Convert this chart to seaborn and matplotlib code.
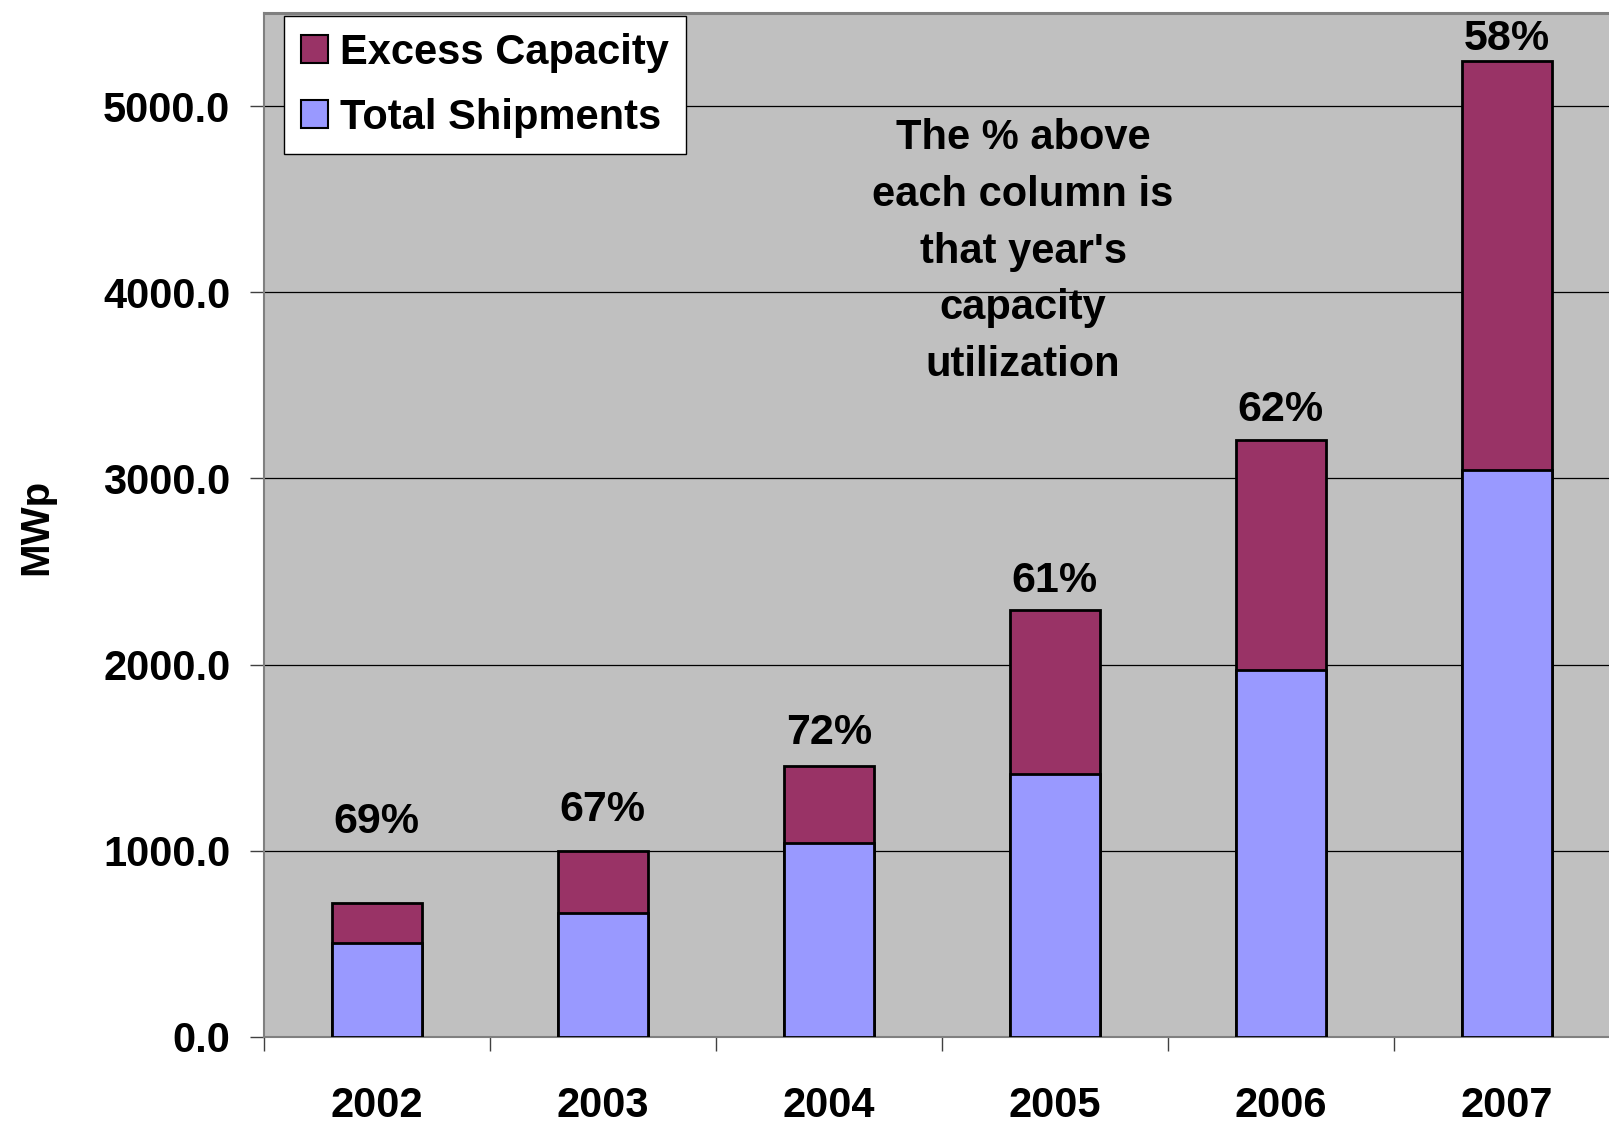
import matplotlib
matplotlib.use("Agg")
import matplotlib.pyplot as plt
from matplotlib.patches import Patch
import seaborn as sns
import pandas as pd

# Solar cell production: shipments vs. total capacity (MWp)
years = ["2002", "2003", "2004", "2005", "2006", "2007"]
total_shipments = [507, 666, 1041, 1410, 1971, 3045]
total_capacity = [721, 997, 1454, 2291, 3205, 5242]
utilization_labels = ["69%", "67%", "72%", "61%", "62%", "58%"]
y_ticks = [0, 1000, 2000, 3000, 4000, 5000]

excess_color = "#993366"
shipments_color = "#9999FF"
plot_bg = "#C0C0C0"

df = pd.DataFrame({
    "year": years,
    "shipments": total_shipments,
    "capacity": total_capacity,
})

sns.set_theme(style="white")
plt.rcParams["font.family"] = ["Liberation Sans", "DejaVu Sans"]
plt.rcParams["font.weight"] = "bold"
for key in ["text.color", "axes.labelcolor", "xtick.labelcolor", "ytick.labelcolor"]:
    plt.rcParams[key] = "black"

fig = plt.figure(figsize=(16.09, 11.23), dpi=100)
ax = fig.add_axes([0.1639, 0.0766, 0.8361, 0.9118])
ax.set_facecolor(plot_bg)

# Full column = capacity (excess on top), lower part = shipments
sns.barplot(data=df, x="year", y="capacity", color=excess_color, saturation=1,
            width=0.4, edgecolor="black", linewidth=2.0, errorbar=None, ax=ax, zorder=3)
sns.barplot(data=df, x="year", y="shipments", color=shipments_color, saturation=1,
            width=0.4, edgecolor="black", linewidth=2.0, errorbar=None, ax=ax, zorder=4)

# Horizontal gridlines
ax.set_yticks(y_ticks)
ax.set_yticklabels([f"{v:.1f}" for v in y_ticks], fontsize=30, fontweight="bold")
for v in y_ticks[1:]:
    ax.axhline(v, color="black", linewidth=0.9, zorder=1)

# Category tick marks sit between columns; year labels sit at column centres
n = len(years)
ax.set_xticks([i - 0.5 for i in range(n + 1)])
ax.set_xticklabels([""] * (n + 1))
ax.set_xticks(list(range(n)), minor=True)
ax.set_xticklabels(years, minor=True, fontsize=30, fontweight="bold")
ax.tick_params(axis="x", which="major", direction="out", length=10, width=1.0,
               color="#404040", bottom=True)
ax.tick_params(axis="x", which="minor", length=0, pad=35)
ax.tick_params(axis="y", direction="out", length=10, width=1.0, color="#404040",
               left=True, pad=14)

ax.set_xlim(-0.5, -0.5 + 1345.3 / 226.0)
ax.set_ylim(0, 5500)

for side in ["left", "bottom"]:
    ax.spines[side].set_color("#808080")
    ax.spines[side].set_linewidth(1.5)
ax.spines["top"].set_color("#808080")
ax.spines["top"].set_linewidth(2.2)
ax.spines["right"].set_visible(False)

ax.set_xlabel("")
ax.set_ylabel("MWp", fontsize=29, fontweight="bold")
ax.yaxis.label.set_verticalalignment("center")
ax.yaxis.set_label_coords(-0.169, 0.498)

# Utilization percentage above each column
label_offsets = [58, 30, 24, 21, 22, 16]
for i, (cap, lab) in enumerate(zip(total_capacity, utilization_labels)):
    ax.annotate(lab, xy=(i, cap), xytext=(0, label_offsets[i]),
                textcoords="offset points", ha="center", va="center",
                fontsize=31, fontweight="bold", zorder=5)

ax.text(2.86, 4218,
        "The % above\neach column is\nthat year's\ncapacity\nutilization",
        ha="center", va="center", fontsize=30, fontweight="bold",
        linespacing=1.54, zorder=5)

handles = [
    Patch(facecolor=excess_color, edgecolor="black", linewidth=1.5, label="Excess Capacity"),
    Patch(facecolor=shipments_color, edgecolor="black", linewidth=1.5, label="Total Shipments"),
]
leg = ax.legend(handles=handles, loc="upper left", bbox_to_anchor=(0.015, 0.997),
                borderaxespad=0, fontsize=30, frameon=True, fancybox=False,
                framealpha=1, edgecolor="black", handlelength=0.65, handleheight=0.65,
                handletextpad=0.3, labelspacing=0.6, borderpad=0.4)
leg.get_frame().set_linewidth(1.0)
for t in leg.get_texts():
    t.set_fontweight("bold")

fig.savefig("out.png", dpi=100, facecolor="white")
